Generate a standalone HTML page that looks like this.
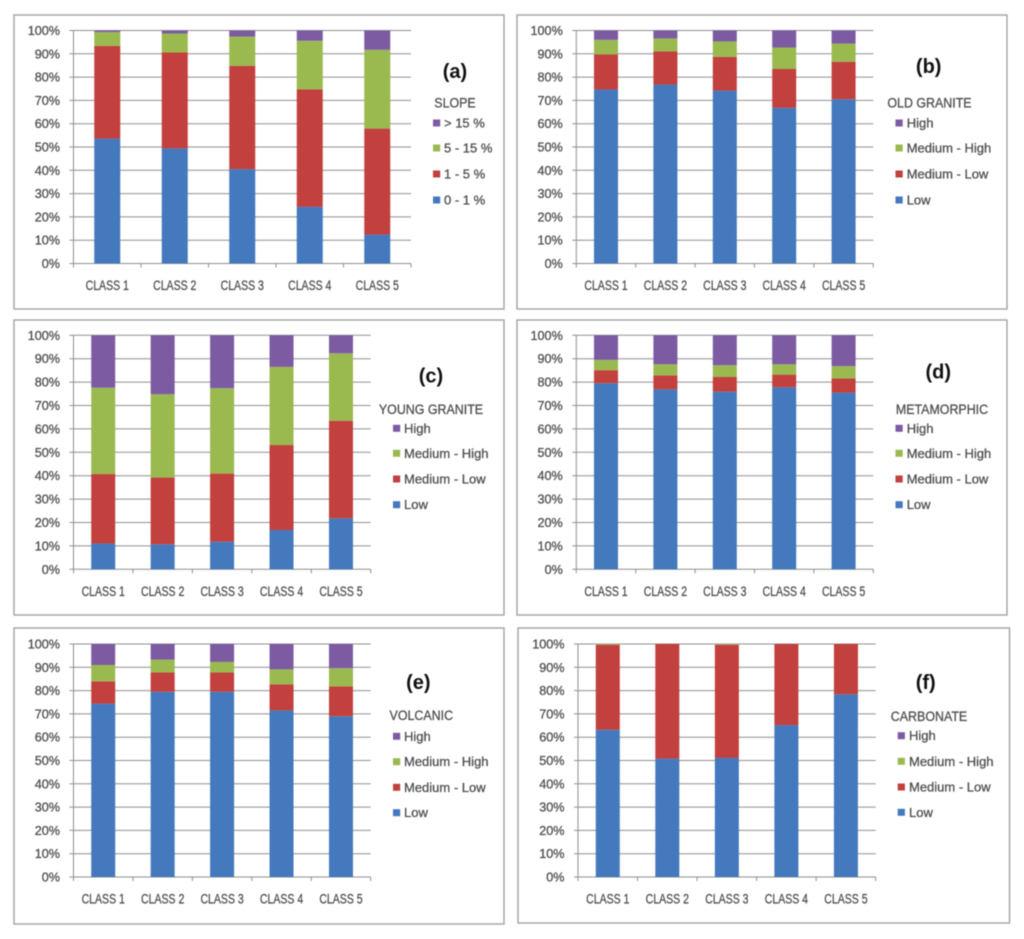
<!DOCTYPE html>
<html lang="en">
<head>
<meta charset="utf-8">
<title>Class distributions by slope and lithology</title>
<style>
html,body{margin:0;padding:0;background:#fff;width:1024px;height:939px;overflow:hidden}
svg{display:block;filter:blur(0.45px)}
text{font-family:"Liberation Sans",sans-serif;fill:#505050;stroke:#505050;stroke-width:0.3px}
</style>
</head>
<body>
<svg id="figure" xmlns="http://www.w3.org/2000/svg" width="1024" height="939" viewBox="0 0 1024 939"></svg>
<script>
const categories = ["CLASS 1", "CLASS 2", "CLASS 3", "CLASS 4", "CLASS 5"];
const yTicks = [0, 10, 20, 30, 40, 50, 60, 70, 80, 90, 100];
const slopeLegend = ["0 - 1 %", "1 - 5 %", "5 - 15 %", "> 15 %"];
const rockLegend = ["Low", "Medium - Low", "Medium - High", "High"];

const slopeLow = [53.6, 49.4, 40.5, 24.3, 12.4];
const slopeMedLow = [39.8, 41.2, 44.3, 50.4, 45.5];
const slopeMedHigh = [5.9, 8.1, 12.6, 20.9, 33.8];
const slopeHigh = [0.7, 1.3, 2.6, 4.4, 8.3];

const oldGraniteLow = [74.7, 76.8, 74.2, 66.8, 70.5];
const oldGraniteMedLow = [15.1, 14.2, 14.5, 16.7, 16.1];
const oldGraniteMedHigh = [6.2, 5.6, 6.6, 9.2, 7.8];
const oldGraniteHigh = [4.0, 3.4, 4.7, 7.3, 5.6];

const youngGraniteLow = [11.0, 10.7, 11.8, 16.8, 21.8];
const youngGraniteMedLow = [29.7, 28.5, 29.1, 36.3, 41.7];
const youngGraniteMedHigh = [36.9, 35.6, 36.5, 33.4, 28.8];
const youngGraniteHigh = [22.4, 25.2, 22.6, 13.5, 7.7];

const metamorphicLow = [79.5, 76.9, 75.9, 77.8, 75.5];
const metamorphicMedLow = [5.6, 6.0, 6.3, 5.4, 6.1];
const metamorphicMedHigh = [4.4, 4.7, 5.0, 4.4, 5.2];
const metamorphicHigh = [10.5, 12.4, 12.8, 12.4, 13.2];

const volcanicLow = [74.4, 79.5, 79.5, 71.5, 69.0];
const volcanicMedLow = [9.6, 8.3, 8.3, 11.2, 12.8];
const volcanicMedHigh = [7.0, 5.5, 4.5, 6.4, 7.8];
const volcanicHigh = [9.0, 6.7, 7.7, 10.9, 10.4];

const carbonateLow = [63.2, 50.8, 51.1, 65.2, 78.4];
const carbonateMedLow = [36.5, 49.2, 48.6, 34.8, 21.6];
const carbonateMedHigh = [0.3, 0, 0.3, 0, 0];
const carbonateHigh = [0, 0, 0, 0, 0];

const seriesColors = ["#4479bd", "#c2403d", "#9aba50", "#7d5ba3"];
const NS = "http://www.w3.org/2000/svg";
const root = document.getElementById("figure");

const panels = [
  {key:"a", title:"SLOPE", legend:slopeLegend, series:[slopeLow, slopeMedLow, slopeMedHigh, slopeHigh],
   frame:[14,15,490,294], plot:[73.5,30.5,411,263.5], barW:26, titleC:[455,103], tagC:[455,71],
   markX:433, textX:444, legendY:[200,174,148,123]},
  {key:"b", title:"OLD GRANITE", legend:rockLegend, series:[oldGraniteLow, oldGraniteMedLow, oldGraniteMedHigh, oldGraniteHigh],
   frame:[517,15,490,294], plot:[576.3,30.5,873.3,263.5], barW:24, titleC:[929.5,103], tagC:[928.7,66],
   markX:895.5, textX:906.7, legendY:[200,174,148,123]},
  {key:"c", title:"YOUNG GRANITE", legend:rockLegend, series:[youngGraniteLow, youngGraniteMedLow, youngGraniteMedHigh, youngGraniteHigh],
   frame:[14,320,490,295], plot:[73.5,335.3,370.7,569.3], barW:24, titleC:[431,409.7], tagC:[431,375.7],
   markX:393, textX:404, legendY:[504.7,479,453.3,428.3]},
  {key:"d", title:"METAMORPHIC", legend:rockLegend, series:[metamorphicLow, metamorphicMedLow, metamorphicMedHigh, metamorphicHigh],
   frame:[517,320,490,295], plot:[576.3,335.3,873.3,569.3], barW:24, titleC:[942,409.7], tagC:[938.3,371.7],
   markX:895.5, textX:906.7, legendY:[504.7,479,453.3,428.3]},
  {key:"e", title:"VOLCANIC", legend:rockLegend, series:[volcanicLow, volcanicMedLow, volcanicMedHigh, volcanicHigh],
   frame:[14,628,490,296], plot:[73.5,644,370.7,877], barW:24, titleC:[421.3,715.7], tagC:[418.3,682],
   markX:393, textX:404, legendY:[812.7,787.3,761.7,736.3]},
  {key:"f", title:"CARBONATE", legend:rockLegend, series:[carbonateLow, carbonateMedLow, carbonateMedHigh, carbonateHigh],
   frame:[518,628,491.5,295], plot:[578,644,875.7,877], barW:24, titleC:[929,716.7], tagC:[925.7,682],
   markX:897.7, textX:909, legendY:[812.3,787,761.3,735.7]}
];

function make(tag, parent) {
  const el = document.createElementNS(NS, tag);
  parent.appendChild(el);
  return el;
}
function setAll(el, props) {
  for (const k in props) el.setAttribute(k, props[k]);
  return el;
}
function squeeze(el, factor) {
  const len = el.getComputedTextLength();
  el.setAttribute("textLength", (len * factor).toFixed(1));
  el.setAttribute("lengthAdjust", "spacingAndGlyphs");
}

panels.forEach(function (p) {
  const left = p.plot[0], top = p.plot[1], right = p.plot[2], bottom = p.plot[3];
  const yScale = function (v) { return bottom - (v / 100) * (bottom - top); };
  const band = (right - left) / categories.length;
  const xCenter = function (i) { return left + band * (i + 0.5); };

  const g = make("g", root);
  
  

  const frame = setAll(make("rect", g), {x:p.frame[0], y:p.frame[1], width:p.frame[2], height:p.frame[3], fill:"#fff", stroke:"#a3a3a3", "stroke-width":1.4});
  
  

  yTicks.forEach(function (t) {
    const y = yScale(t);
    const line = setAll(make("line", g), {x1:left - 4, x2:right, y1:y, y2:y, stroke:"#8f8f8f", "stroke-width":1});
    
    
    const label = setAll(make("text", g), {x:left - 13.5, y:y + 4.5, "text-anchor":"end", "font-size":13});
    label.textContent = t + "%";
    
    
    squeeze(label, 0.97);
  });

  const yAxis = setAll(make("line", g), {x1:left, x2:left, y1:top, y2:bottom, stroke:"#8f8f8f", "stroke-width":1});
  
  

  for (let i = 0; i <= categories.length; i++) {
    const x = left + band * i;
    const tick = setAll(make("line", g), {x1:x, x2:x, y1:bottom, y2:bottom + 4, stroke:"#8f8f8f", "stroke-width":1});
    
    
  }

  categories.forEach(function (c, i) {
    let cum = 0;
    p.series.forEach(function (values, s) {
      const v = values[i];
      if (v > 0) {
        const bar = setAll(make("rect", g), {
          x: xCenter(i) - p.barW / 2,
          y: yScale(cum + v),
          width: p.barW,
          height: yScale(cum) - yScale(cum + v),
          fill: seriesColors[s]
        });
        
        
      }
      cum += v;
    });
    const label = setAll(make("text", g), {x:xCenter(i), y:bottom + 26.5, "text-anchor":"middle", "font-size":13.5});
    label.textContent = c;
    
    
    squeeze(label, 0.78);
  });

  const tag = setAll(make("text", g), {x:p.tagC[0], y:p.tagC[1] + 7, "text-anchor":"middle", "font-size":20, "font-weight":"bold"});
  tag.style.fill = "#111";
  tag.style.stroke = "none";
  tag.textContent = "(" + p.key + ")";
  
  

  const legendTitle = setAll(make("text", g), {x:p.titleC[0], y:p.titleC[1] + 4.5, "text-anchor":"middle", "font-size":13.5});
  legendTitle.textContent = p.title;
  
  
  squeeze(legendTitle, 0.92);

  p.legend.forEach(function (name, s) {
    const y = p.legendY[s];
    const mark = setAll(make("rect", g), {x:p.markX, y:y - 3.5, width:7.2, height:7, fill:seriesColors[s]});
    
    
    const label = setAll(make("text", g), {x:p.textX, y:y + 4.5, "font-size":13});
    label.textContent = name;
    
    
  });
});
</script>
</body>
</html>
